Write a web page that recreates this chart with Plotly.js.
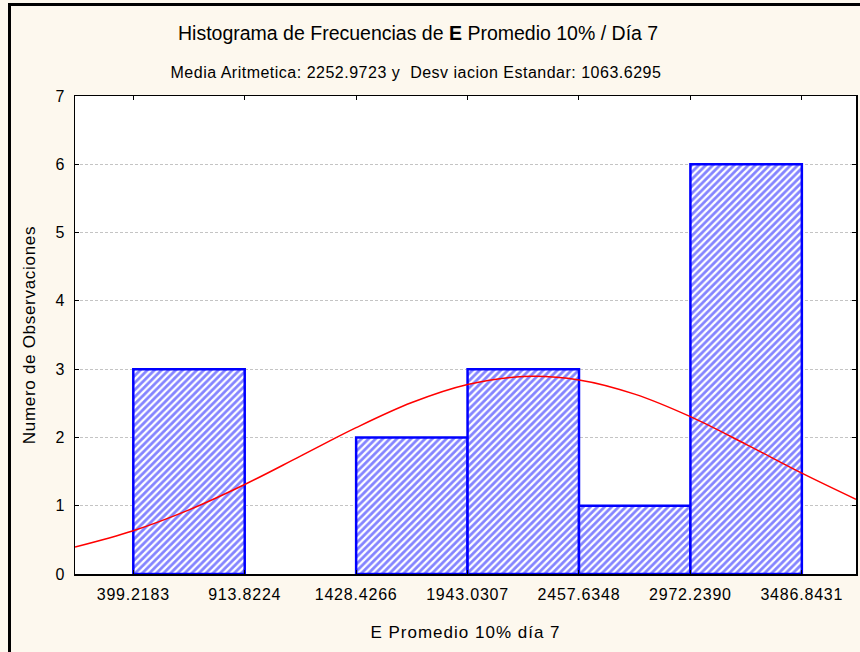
<!DOCTYPE html>
<html>
<head>
<meta charset="utf-8">
<script src="https://cdn.plot.ly/plotly-3.0.1.min.js"></script>
<style>
html,body{margin:0;padding:0;background:#FDF8EE;overflow:hidden;}
#chart{width:860px;height:652px;position:relative;}
#frame{position:absolute;left:8px;top:3px;width:900px;height:700px;border:3px solid #000;pointer-events:none;box-sizing:border-box;}
.xtick text, .ytick text {letter-spacing:0.8px;}
.g-xtitle text {letter-spacing:1px;}
.g-ytitle text {letter-spacing:0.7px;}
.annotation[data-index="1"] text {letter-spacing:0.5px;}
</style>
</head>
<body>
<div id="chart"></div>
<div id="frame"></div>
<script>
// Bin edges (as printed on the x axis)
const binEdges = [399.2183, 913.8224, 1428.4266, 1943.0307, 2457.6348, 2972.2390, 3486.8431];
const edgeLabels = ["399.2183", "913.8224", "1428.4266", "1943.0307", "2457.6348", "2972.2390", "3486.8431"];
// Observed counts per bin
const counts = [3, 0, 2, 3, 1, 6];
// Fitted normal curve
const curveX = [130, 399.2, 656.5, 913.8, 1171.1, 1428.4, 1685.7, 1943.0, 2200.3, 2457.6, 2714.9, 2972.2, 3229.5, 3486.8, 3737];
const curveY = [0.395, 0.634, 0.939, 1.311, 1.726, 2.143, 2.511, 2.775, 2.891, 2.842, 2.634, 2.304, 1.899, 1.477, 1.094];

const centers = [], widths = [];
for (let i = 0; i < counts.length; i++) {
  centers.push((binEdges[i] + binEdges[i + 1]) / 2);
  widths.push(binEdges[i + 1] - binEdges[i]);
}

const FONT = "Liberation Sans, Arial, sans-serif";

const bars = {
  type: "bar",
  x: centers,
  y: counts,
  width: widths,
  marker: {
    color: "#ffffff",
    line: {color: "#0000ff", width: counts.map(c => c > 0 ? 2.5 : 0)},
    pattern: {shape: "/", fgcolor: "#0a0aff", bgcolor: "#ffffff", size: 5, solidity: 0.55, fillmode: "overlay"}
  },
  hoverinfo: "x+y",
  showlegend: false
};

const curve = {
  type: "scatter",
  mode: "lines",
  x: curveX,
  y: curveY,
  line: {color: "#ff0000", width: 1.5, shape: "spline", smoothing: 1},
  showlegend: false,
  hoverinfo: "skip"
};

const layout = {
  width: 860,
  height: 652,
  paper_bgcolor: "#FDF8EE",
  plot_bgcolor: "#ffffff",
  margin: {l: 75, r: 4, t: 96, b: 78},
  font: {family: FONT, color: "#000000", size: 16},
  bargap: 0,
  xaxis: {
    range: [130, 3737],
    tickvals: binEdges,
    ticktext: edgeLabels,
    ticks: "inside",
    ticklen: 4,
    tickcolor: "#000",
    mirror: "ticks",
    showline: true,
    linecolor: "#000",
    linewidth: 1.5,
    showgrid: false,
    zeroline: false,
    ticklabelstandoff: 5,
    tickfont: {size: 16, family: FONT},
    title: {text: "E Promedio 10% día 7", font: {size: 17, family: FONT}, standoff: 24}
  },
  yaxis: {
    range: [0, 7],
    dtick: 1,
    tick0: 0,
    ticks: "inside",
    ticklen: 4,
    tickcolor: "#000",
    mirror: "ticks",
    showline: true,
    linecolor: "#000",
    linewidth: 1.5,
    showgrid: true,
    gridcolor: "#c4c4c4",
    griddash: "3px,2px",
    gridwidth: 1,
    zeroline: false,
    ticklabelstandoff: 5,
    tickfont: {size: 16, family: FONT},
    title: {text: "Numero de Observaciones", font: {size: 17, family: FONT}, standoff: 15}
  },
  annotations: [
    {text: "Histograma de Frecuencias de <b>E</b> Promedio 10% / Día 7", xref: "paper", yref: "paper",
     x: (418 - 75) / 781, y: 1 + (96 - 33) / 478, xanchor: "center", yanchor: "middle", showarrow: false,
     font: {size: 19.5, family: FONT}},
    {text: "Media Aritmetica: 2252.9723 y  Desv iacion Estandar: 1063.6295", xref: "paper", yref: "paper",
     x: (416 - 75) / 781, y: 1 + (96 - 72) / 478, xanchor: "center", yanchor: "middle", showarrow: false,
     font: {size: 16, family: FONT}}
  ]
};

Plotly.newPlot("chart", [bars, curve], layout, {displayModeBar: false, staticPlot: true});
</script>
</body>
</html>
